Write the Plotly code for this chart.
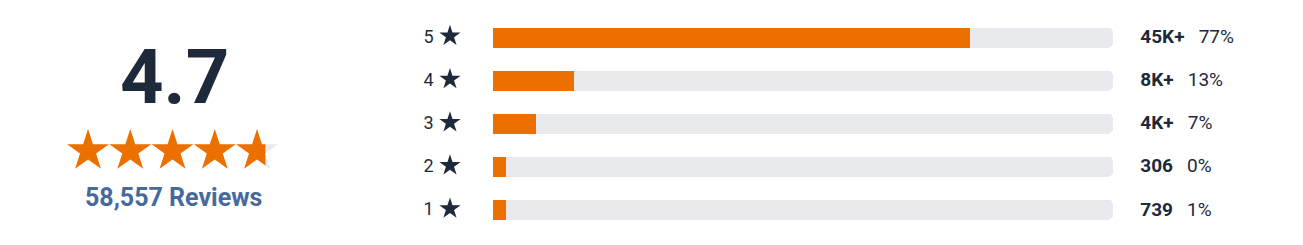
import plotly.graph_objects as go

# ---- data ----
rating = 4.7
total_reviews = 58557
star_levels = [5, 4, 3, 2, 1]
percentages = [77, 13, 7, 0, 1]
count_labels = ["45K+", "8K+", "4K+", "306", "739"]
MIN_BAR = 2.1  # minimum visible bar length (percent units)

# ---- styles ----
ORANGE = "#ec7000"
TRACK = "#e9eaee"
NAVY = "#1e293b"
BLUE = "#46699e"
FONT = "Roboto"

W, H = 1303, 245

fig = go.Figure()

# background tracks
fig.add_trace(go.Bar(
    y=star_levels, x=[100] * len(star_levels), orientation="h",
    marker=dict(color=TRACK, line=dict(width=0), cornerradius=5),
    width=0.463, hoverinfo="skip", xaxis="x", yaxis="y",
))
# filled bars
fig.add_trace(go.Bar(
    y=star_levels, x=[max(p, MIN_BAR) for p in percentages], orientation="h",
    marker=dict(color=ORANGE, line=dict(width=0), cornerradius=5),
    width=0.463, hoverinfo="skip", xaxis="x", yaxis="y",
))
# row labels: digit + star
fig.add_trace(go.Scatter(
    y=[s - 0.02 for s in star_levels], x=[-10.4] * 5, mode="text",
    text=[str(s) for s in star_levels], textposition="middle center",
    textfont=dict(family=FONT, size=18, color=NAVY),
    hoverinfo="skip", cliponaxis=False, xaxis="x", yaxis="y",
))
fig.add_trace(go.Scatter(
    y=[s + 0.03 for s in star_levels], x=[-6.94] * 5, mode="markers",
    marker=dict(symbol="star", size=16, color=NAVY, line=dict(width=0)),
    hoverinfo="skip", cliponaxis=False, xaxis="x", yaxis="y",
))
# counts + percentages
fig.add_trace(go.Scatter(
    y=[s - 0.02 for s in star_levels], x=[104.4] * 5, mode="text",
    text=[f"<b>{c}</b>\u00a0\u00a0\u00a0{p}%" for c, p in zip(count_labels, percentages)],
    textposition="middle right",
    textfont=dict(family=FONT, size=19, color=NAVY),
    hoverinfo="skip", cliponaxis=False, xaxis="x", yaxis="y",
))

# ---- big star rating ----
star_x = [1, 2, 3, 4, 5]
star_y = 94
empty_x = [i for i in star_x if i > int(rating)]
fig.add_trace(go.Scatter(
    x=empty_x, y=[star_y] * len(empty_x), mode="markers",
    marker=dict(symbol="star", size=31.5, color=TRACK, line=dict(width=0)),
    hoverinfo="skip", cliponaxis=False, xaxis="x2", yaxis="y2",
))
fig.add_trace(go.Scatter(
    x=star_x, y=[star_y] * 5, mode="markers",
    marker=dict(symbol="star", size=31.5, color=ORANGE, line=dict(width=0)),
    hoverinfo="skip", cliponaxis=True, xaxis="x3", yaxis="y2",
))

# axis geometry
px_per_unit = 6.2
x0_px = 493
left_px, right_px = 410, 1300
xr = [(left_px - x0_px) / px_per_unit, (right_px - x0_px) / px_per_unit]

s_left = 66.9
s_unit = 42.25
s_full = s_left + 5 * s_unit
s_fill = s_left + rating * s_unit

hidden = dict(visible=False, showgrid=False, zeroline=False, fixedrange=True)

fig.update_layout(
    width=W, height=H,
    margin=dict(l=0, r=0, t=0, b=0),
    paper_bgcolor="white", plot_bgcolor="white",
    showlegend=False, barmode="overlay", bargap=0, barcornerradius=5,
    xaxis=dict(domain=[left_px / W, right_px / W], range=xr, **hidden),
    yaxis=dict(domain=[0.0547, 0.9359], range=[0.5, 5.5], **hidden),
    xaxis2=dict(domain=[s_left / W, s_full / W], range=[0.5, 5.5], anchor="y2", **hidden),
    xaxis3=dict(domain=[s_left / W, s_fill / W], range=[0.5, 0.5 + rating], anchor="y2",
                **hidden),
    yaxis2=dict(domain=[0, 1], range=[0, H], anchor="x2", **hidden),
    annotations=[
        dict(text=f"<b>{rating}</b>", x=174 / W, y=1 - 77 / H, xref="paper", yref="paper",
             showarrow=False, xanchor="center", yanchor="middle",
             font=dict(family=FONT, size=76, color=NAVY)),
        dict(text=f"<b>{total_reviews:,} Reviews</b>", x=173 / W, y=1 - 197.5 / H,
             xref="paper", yref="paper", showarrow=False,
             xanchor="center", yanchor="middle",
             font=dict(family=FONT, size=25, color=BLUE)),
    ],
)

fig.write_html("out.html")
